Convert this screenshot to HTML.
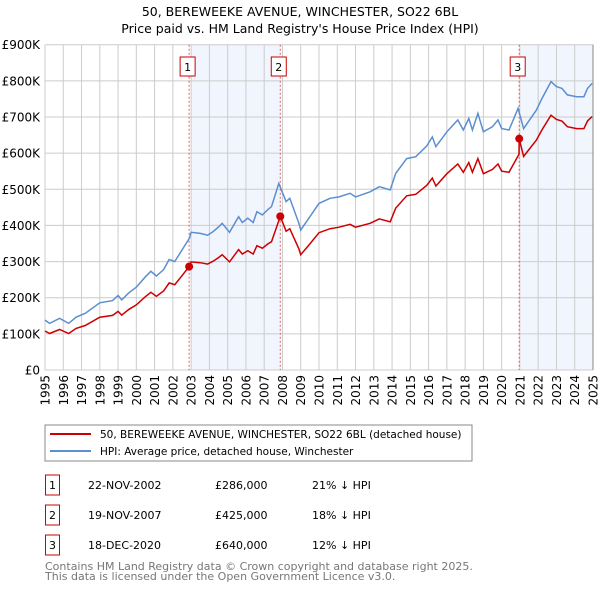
<!DOCTYPE html>
<html><head><meta charset="utf-8"><style>
body{margin:0;background:#fff;}
svg{display:block;font-family:"DejaVu Sans","Liberation Sans",sans-serif;}
</style></head><body>
<svg id="c" width="600" height="590" xmlns="http://www.w3.org/2000/svg">
<text x="300" y="16" text-anchor="middle" font-size="12.5" fill="#000">50, BEREWEEKE AVENUE, WINCHESTER, SO22 6BL</text>
<text x="300" y="33" text-anchor="middle" font-size="12.5" fill="#000">Price paid vs. HM Land Registry's House Price Index (HPI)</text>
<g id="plot"></g>
<rect x="45" y="425" width="427" height="36" fill="#fff" stroke="#888"/>
<line x1="50" y1="434" x2="91" y2="434" stroke="#cc0000" stroke-width="2"/>
<text x="100" y="438" font-size="10.5">50, BEREWEEKE AVENUE, WINCHESTER, SO22 6BL (detached house)</text>
<line x1="50" y1="451" x2="91" y2="451" stroke="#5b8fd0" stroke-width="2"/>
<text x="100" y="455" font-size="10.5">HPI: Average price, detached house, Winchester</text>
<g id="table"></g>
<text x="45" y="570" font-size="11" fill="#777">Contains HM Land Registry data © Crown copyright and database right 2025.</text>
<text x="45" y="580" font-size="11" fill="#777">This data is licensed under the Open Government Licence v3.0.</text>
</svg>
<script>
const hpiYears=[1995,1995.25,1995.8,1996.3,1996.7,1997.2,1998,1998.7,1999,1999.2,1999.6,2000,2000.5,2000.8,2001.1,2001.5,2001.8,2002.1,2002.5,2002.9,2003,2003.5,2003.9,2004.2,2004.5,2004.7,2005.1,2005.6,2005.8,2006.1,2006.4,2006.6,2006.9,2007.2,2007.4,2007.8,2008.2,2008.4,2008.9,2009,2009.5,2010,2010.6,2011.1,2011.7,2012,2012.8,2013.3,2013.9,2014.2,2014.8,2015.3,2015.9,2016.2,2016.4,2017,2017.6,2017.9,2018.2,2018.4,2018.7,2019,2019.5,2019.8,2020,2020.4,2020.9,2021.2,2021.9,2022.2,2022.7,2023,2023.3,2023.6,2024.1,2024.5,2024.7,2024.95];
const hpiValues=[138,129,143,129,146,157,186,192,206,194,214,229,258,273,260,278,306,300,332,364,381,378,373,383,396,406,381,424,408,420,408,438,429,444,452,516,466,475,406,387,424,461,475,479,489,479,493,507,498,544,585,590,620,645,618,659,692,664,696,664,710,659,673,692,668,664,724,668,719,751,798,784,779,761,756,756,779,793];
const priceYears=[1995,1995.25,1995.8,1996.3,1996.7,1997.2,1998,1998.7,1999,1999.2,1999.6,2000,2000.5,2000.8,2001.1,2001.5,2001.8,2002.1,2002.5,2002.89,2003,2003.5,2003.9,2004.2,2004.5,2004.7,2005.1,2005.6,2005.8,2006.1,2006.4,2006.6,2006.9,2007.2,2007.4,2007.88,2008.2,2008.4,2008.9,2009,2009.5,2010,2010.6,2011.1,2011.7,2012,2012.8,2013.3,2013.9,2014.2,2014.8,2015.3,2015.9,2016.2,2016.4,2017,2017.6,2017.9,2018.2,2018.4,2018.7,2019,2019.5,2019.8,2020,2020.4,2020.95,2020.96,2021.2,2021.9,2022.2,2022.7,2023,2023.3,2023.6,2024.1,2024.5,2024.7,2024.95];
const priceValues=[108,101,112,101,115,123,146,151,162,152,168,180,203,215,204,219,241,236,261,286,299,297,293,301,311,319,299,333,321,330,321,344,337,349,355,425,384,391,335,319,349,380,391,395,403,395,406,418,410,448,482,486,511,531,509,543,570,547,574,547,585,543,555,570,550,547,597,640,591,636,664,705,693,689,673,668,668,689,701];
const saleYears=[2002.89,2007.88,2020.96];
const saleValues=[286,425,640];
const saleLabels=["1","2","3"];
const saleDates=["22-NOV-2002","19-NOV-2007","18-DEC-2020"];
const salePrices=["£286,000","£425,000","£640,000"];
const saleHpi=["21% ↓ HPI","18% ↓ HPI","12% ↓ HPI"];
const yTicks=[0,100,200,300,400,500,600,700,800,900];
const yTickLabels=["£0","£100K","£200K","£300K","£400K","£500K","£600K","£700K","£800K","£900K"];
const xTicks=[1995,1996,1997,1998,1999,2000,2001,2002,2003,2004,2005,2006,2007,2008,2009,2010,2011,2012,2013,2014,2015,2016,2017,2018,2019,2020,2021,2022,2023,2024,2025];

const NS="http://www.w3.org/2000/svg";
const L=45,R=593,T=44.7,B=370;
const xs=y=>L+(y-1995)/30*(R-L);
const ys=v=>B-v/900*(B-T);
const plot=document.getElementById('plot');
function mk(tag,attrs,parent){const e=document.createElementNS(NS,tag);for(const k in attrs)e.setAttribute(k,attrs[k]);(parent||plot).appendChild(e);return e;}

let sh=mk('rect',{x:xs(2003),y:T,width:xs(saleYears[1])-xs(2003),height:B-T,fill:'#eef3fc',opacity:0.8});


let sh2=mk('rect',{x:xs(saleYears[2])+2,y:T,width:R-xs(saleYears[2])-2,height:B-T,fill:'#eef3fc',opacity:0.8});



yTicks.forEach((v,i)=>{
 let g=mk('line',{x1:L,x2:R,y1:ys(v),y2:ys(v),stroke:'#ccc','stroke-width':1});
 
 
 let t=mk('text',{x:40,y:ys(v)+4.5,'text-anchor':'end','font-size':12});
 
 
 t.textContent=yTickLabels[i];
});
xTicks.forEach(y=>{
 let g=mk('line',{x1:xs(y),x2:xs(y),y1:T,y2:B,stroke:'#ccc','stroke-width':1});
 
 
 let t=mk('text',{x:0,y:0,'text-anchor':'end','font-size':12,transform:`translate(${xs(y)+4.5},${B+5}) rotate(-90)`});
 
 
 t.textContent=y;
});
let ax=mk('line',{x1:R,x2:R,y1:T,y2:B,stroke:'#888','stroke-width':1});



saleYears.forEach((y,i)=>{
 let l=mk('line',{x1:xs(y),x2:xs(y),y1:T,y2:B,stroke:'#e06060','stroke-width':1,'stroke-dasharray':'2,2'});
 
 
 let bx=xs(y)-9;
 if(i===2) bx=xs(y)-9;
 let r=mk('rect',{x:bx,y:57,width:15,height:19,fill:'#fff',stroke:'#cc0000'});
 
 
 let t=mk('text',{x:bx+7.5,y:71,'text-anchor':'middle','font-size':11});
 
 
 t.textContent=saleLabels[i];
});

let hp=mk('path',{d:hpiYears.map((y,i)=>(i?'L':'M')+xs(y).toFixed(1)+','+ys(hpiValues[i]).toFixed(1)).join(''),fill:'none',stroke:'#5b8fd0','stroke-width':1.5});


let pp=mk('path',{d:priceYears.map((y,i)=>(i?'L':'M')+xs(y).toFixed(1)+','+ys(priceValues[i]).toFixed(1)).join(''),fill:'none',stroke:'#cc0000','stroke-width':1.5});


saleYears.forEach((y,i)=>{
 let c=mk('circle',{cx:xs(y),cy:ys(saleValues[i]),r:4,fill:'#cc0000'});
 
 
});

const tb=document.getElementById('table');
const rowY=[485,515,545];
saleLabels.forEach((s,i)=>{
 let y=rowY[i];
 let r=mk('rect',{x:45.5,y:y-10,width:14,height:20,fill:'#fff',stroke:'#cc0000'},tb);
 
 
 const cells=[[52.5,s,'middle'],[88,saleDates[i],'start'],[215,salePrices[i],'start'],[312,saleHpi[i],'start']];
 cells.forEach(c=>{
  let t=mk('text',{x:c[0],y:y+4,'text-anchor':c[2],'font-size':11},tb);
  
  
  t.textContent=c[1];
 });
});
</script>
</body></html>
